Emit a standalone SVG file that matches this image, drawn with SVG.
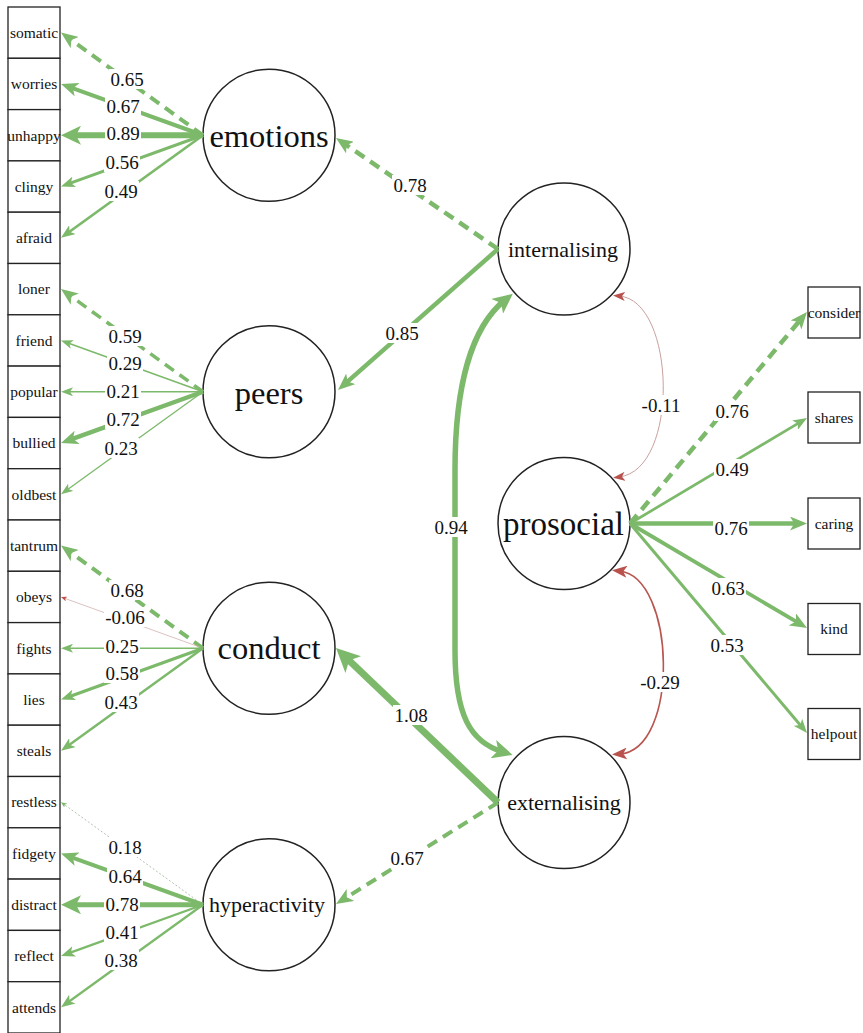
<svg xmlns="http://www.w3.org/2000/svg" width="863" height="1033" viewBox="0 0 863 1033">
<style>
.box{fill:#fff;stroke:#222;stroke-width:1.3}
.lat{fill:#fff;stroke:#222;stroke-width:1.5}
.bt{font-family:"Liberation Serif","Times New Roman",serif;font-size:15.5px;fill:#111;text-anchor:middle}
.lt{font-family:"Liberation Serif","Times New Roman",serif;fill:#111;text-anchor:middle}
.big{font-size:32.5px}
.mid{font-size:22px}
.e{fill:none;stroke:#7cb96a;stroke-linecap:butt}
.d{stroke-dasharray:11 7}
.neg0{stroke:#d3b3b1}
.dot{stroke:#a9bca5;stroke-dasharray:2 2}
.cov1{stroke:#c8a19e}
.cov2{stroke:#b85650}
.lb rect{fill:#fff}
.lb text{font-family:"Liberation Serif","Times New Roman",serif;font-size:19px;fill:#111;text-anchor:middle}
</style>
<defs>
<marker id="gT" viewBox="0 0 6 5" markerWidth="6" markerHeight="5" refX="3" refY="2.5" orient="auto-start-reverse" markerUnits="userSpaceOnUse"><path d="M0,0 L6,2.5 L0,5 L1.5,2.5 Z" fill="#7cb96a"/></marker>
<marker id="gS" viewBox="0 0 12 9" markerWidth="12" markerHeight="9" refX="6" refY="4.5" orient="auto-start-reverse" markerUnits="userSpaceOnUse"><path d="M0,0 L12,4.5 L0,9 L3,4.5 Z" fill="#7cb96a"/></marker>
<marker id="gM" viewBox="0 0 14 11" markerWidth="14" markerHeight="11" refX="7" refY="5.5" orient="auto-start-reverse" markerUnits="userSpaceOnUse"><path d="M0,0 L14,5.5 L0,11 L3.5,5.5 Z" fill="#7cb96a"/></marker>
<marker id="gL" viewBox="0 0 17 14" markerWidth="17" markerHeight="14" refX="8.5" refY="7" orient="auto-start-reverse" markerUnits="userSpaceOnUse"><path d="M0,0 L17,7 L0,14 L4.25,7 Z" fill="#7cb96a"/></marker>
<marker id="gXL" viewBox="0 0 20 19" markerWidth="20" markerHeight="19" refX="10" refY="9.5" orient="auto-start-reverse" markerUnits="userSpaceOnUse"><path d="M0,0 L20,9.5 L0,19 L5,9.5 Z" fill="#7cb96a"/></marker>
<marker id="gXXL" viewBox="0 0 24 23" markerWidth="24" markerHeight="23" refX="12" refY="11.5" orient="auto-start-reverse" markerUnits="userSpaceOnUse"><path d="M0,0 L24,11.5 L0,23 L6,11.5 Z" fill="#7cb96a"/></marker>
<marker id="rT" viewBox="0 0 6 5" markerWidth="6" markerHeight="5" refX="3" refY="2.5" orient="auto-start-reverse" markerUnits="userSpaceOnUse"><path d="M0,0 L6,2.5 L0,5 L1.5,2.5 Z" fill="#c0504b"/></marker>
<marker id="rS" viewBox="0 0 12 9" markerWidth="12" markerHeight="9" refX="6" refY="4.5" orient="auto-start-reverse" markerUnits="userSpaceOnUse"><path d="M0,0 L12,4.5 L0,9 L3,4.5 Z" fill="#b9514c"/></marker>
<marker id="rM" viewBox="0 0 15 12" markerWidth="15" markerHeight="12" refX="7.5" refY="6" orient="auto-start-reverse" markerUnits="userSpaceOnUse"><path d="M0,0 L15,6 L0,12 L3.75,6 Z" fill="#b9514c"/></marker>
</defs>
<rect width="863" height="1033" fill="#fff"/>

<g id="nodes">
<g id="n-somatic"><rect class="box" x="8" y="7" width="52" height="51.3"/><text class="bt" x="34" y="37.9">somatic</text></g>
<g id="n-worries"><rect class="box" x="8" y="58.3" width="52" height="51.3"/><text class="bt" x="34" y="89.2">worries</text></g>
<g id="n-unhappy"><rect class="box" x="8" y="109.6" width="52" height="51.3"/><text class="bt" x="34" y="140.5">unhappy</text></g>
<g id="n-clingy"><rect class="box" x="8" y="160.9" width="52" height="51.3"/><text class="bt" x="34" y="191.8">clingy</text></g>
<g id="n-afraid"><rect class="box" x="8" y="212.2" width="52" height="51.3"/><text class="bt" x="34" y="243.1">afraid</text></g>
<g id="n-loner"><rect class="box" x="8" y="263.5" width="52" height="51.3"/><text class="bt" x="34" y="294.4">loner</text></g>
<g id="n-friend"><rect class="box" x="8" y="314.8" width="52" height="51.3"/><text class="bt" x="34" y="345.7">friend</text></g>
<g id="n-popular"><rect class="box" x="8" y="366.1" width="52" height="51.3"/><text class="bt" x="34" y="397">popular</text></g>
<g id="n-bullied"><rect class="box" x="8" y="417.4" width="52" height="51.3"/><text class="bt" x="34" y="448.3">bullied</text></g>
<g id="n-oldbest"><rect class="box" x="8" y="468.7" width="52" height="51.3"/><text class="bt" x="34" y="499.6">oldbest</text></g>
<g id="n-tantrum"><rect class="box" x="8" y="520" width="52" height="51.3"/><text class="bt" x="34" y="550.9">tantrum</text></g>
<g id="n-obeys"><rect class="box" x="8" y="571.3" width="52" height="51.3"/><text class="bt" x="34" y="602.2">obeys</text></g>
<g id="n-fights"><rect class="box" x="8" y="622.6" width="52" height="51.3"/><text class="bt" x="34" y="653.5">fights</text></g>
<g id="n-lies"><rect class="box" x="8" y="673.9" width="52" height="51.3"/><text class="bt" x="34" y="704.8">lies</text></g>
<g id="n-steals"><rect class="box" x="8" y="725.2" width="52" height="51.3"/><text class="bt" x="34" y="756.1">steals</text></g>
<g id="n-restless"><rect class="box" x="8" y="776.5" width="52" height="51.3"/><text class="bt" x="34" y="807.4">restless</text></g>
<g id="n-fidgety"><rect class="box" x="8" y="827.8" width="52" height="51.3"/><text class="bt" x="34" y="858.7">fidgety</text></g>
<g id="n-distract"><rect class="box" x="8" y="879.1" width="52" height="51.3"/><text class="bt" x="34" y="910">distract</text></g>
<g id="n-reflect"><rect class="box" x="8" y="930.4" width="52" height="51.3"/><text class="bt" x="34" y="961.3">reflect</text></g>
<g id="n-attends"><rect class="box" x="8" y="981.7" width="52" height="51.3"/><text class="bt" x="34" y="1012.6">attends</text></g>

<g id="n-consider"><rect class="box" x="808" y="287" width="52" height="51"/><text class="bt" x="834" y="317.7">consider</text></g>
<g id="n-shares"><rect class="box" x="808" y="392" width="52" height="51"/><text class="bt" x="834" y="422.7">shares</text></g>
<g id="n-caring"><rect class="box" x="808" y="498" width="52" height="51"/><text class="bt" x="834" y="528.7">caring</text></g>
<g id="n-kind"><rect class="box" x="808" y="603.5" width="52" height="51"/><text class="bt" x="834" y="634.2">kind</text></g>
<g id="n-helpout"><rect class="box" x="808" y="708.5" width="52" height="51"/><text class="bt" x="834" y="739.2">helpout</text></g>

<g id="n-emotions"><circle class="lat" cx="269" cy="135.25" r="66"/><text class="lt big" x="269" y="146.5">emotions</text></g>
<g id="n-peers"><circle class="lat" cx="269" cy="391.75" r="66"/><text class="lt big" x="269" y="403.5">peers</text></g>
<g id="n-conduct"><circle class="lat" cx="269" cy="648.25" r="66"/><text class="lt big" x="269" y="658.5">conduct</text></g>
<g id="n-hyperactivity"><circle class="lat" cx="269" cy="904.75" r="66"/><text class="lt mid" x="267" y="912">hyperactivity</text></g>
<g id="n-internalising"><circle class="lat" cx="564" cy="249" r="66"/><text class="lt mid" x="563" y="256.5">internalising</text></g>
<g id="n-prosocial"><circle class="lat" cx="564" cy="523.5" r="66"/><text class="lt" style="font-size:33px" x="563.5" y="535">prosocial</text></g>
<g id="n-externalising"><circle class="lat" cx="564" cy="802.5" r="66"/><text class="lt mid" x="564" y="810">externalising</text></g>
</g>

<g id="connectors">
<path class="e d" d="M203,135.25 L67.9,37.6" stroke-width="4" marker-end="url(#gL)"/>
<path class="e" d="M203,135.25 L69,86.8" stroke-width="4" marker-end="url(#gL)"/>
<path class="e" d="M203,135.25 L71,135.25" stroke-width="6" marker-end="url(#gXL)"/>
<path class="e" d="M203,135.25 L67.6,184.2" stroke-width="3" marker-end="url(#gM)"/>
<path class="e" d="M203,135.25 L66.7,233.75" stroke-width="2.7" marker-end="url(#gM)"/>

<path class="e d" d="M203,391.75 L67.9,294.1" stroke-width="3.5" marker-end="url(#gL)"/>
<path class="e" d="M203,391.75 L66.6,342.5" stroke-width="1.6" marker-end="url(#gS)"/>
<path class="e" d="M203,391.75 L67,391.75" stroke-width="1.3" marker-end="url(#gS)"/>
<path class="e" d="M203,391.75 L69,440.2" stroke-width="4.5" marker-end="url(#gL)"/>
<path class="e" d="M203,391.75 L65.9,490.8" stroke-width="1.3" marker-end="url(#gS)"/>

<path class="e d" d="M203,648.25 L67.9,550.6" stroke-width="4" marker-end="url(#gL)"/>
<path class="e neg0" d="M203,648.25 L63.8,598" stroke-width="0.8" marker-end="url(#rT)"/>
<path class="e" d="M203,648.25 L67,648.25" stroke-width="1.5" marker-end="url(#gS)"/>
<path class="e" d="M203,648.25 L67.6,697.2" stroke-width="3.3" marker-end="url(#gM)"/>
<path class="e" d="M203,648.25 L66.7,746.75" stroke-width="2.4" marker-end="url(#gM)"/>

<path class="e dot" d="M203,904.75 L63.4,803.9" stroke-width="0.9" marker-end="url(#gT)"/>
<path class="e" d="M203,904.75 L69,856.3" stroke-width="4" marker-end="url(#gL)"/>
<path class="e" d="M203,904.75 L71,904.75" stroke-width="5" marker-end="url(#gXL)"/>
<path class="e" d="M203,904.75 L67.6,953.7" stroke-width="2.3" marker-end="url(#gM)"/>
<path class="e" d="M203,904.75 L66.7,1003.25" stroke-width="2.2" marker-end="url(#gM)"/>

<path class="e d" d="M498,249 L343,142.8" stroke-width="4.5" marker-end="url(#gL)"/>
<path class="e" d="M498,249 L344.4,384.4" stroke-width="4.5" marker-end="url(#gL)"/>
<path class="e" d="M498,802.5 L344.7,656.3" stroke-width="7" marker-end="url(#gXXL)"/>
<path class="e d" d="M498,802.5 L343.2,899.5" stroke-width="4" marker-end="url(#gL)"/>

<path class="e d" d="M630,523.5 L801.5,318.5" stroke-width="4.5" marker-end="url(#gL)"/>
<path class="e" d="M630,523.5 L801,421.6" stroke-width="2.7" marker-end="url(#gM)"/>
<path class="e" d="M630,523.5 L798.5,523.5" stroke-width="4.5" marker-end="url(#gL)"/>
<path class="e" d="M630,523.5 L799.7,623.7" stroke-width="3.8" marker-end="url(#gL)"/>
<path class="e" d="M630,523.5 L802.5,727.7" stroke-width="3" marker-end="url(#gM)"/>

<path class="e" d="M505,300 C470,328 455,390 455,470 L455,650 C455,715 470,742 503,752" stroke-width="5.5" marker-start="url(#gXL)" marker-end="url(#gXL)"/>
<path class="e cov1" d="M619,296 C676,300 680,470 619,477" stroke-width="1" marker-start="url(#rS)" marker-end="url(#rS)"/>
<path class="e cov2" d="M619.5,571 C676,577 680,750 619.5,754" stroke-width="1.6" marker-start="url(#rM)" marker-end="url(#rM)"/>
</g>

<g id="edge-labels">
<g class="lb"><rect x="109" y="69" width="36" height="20"/><text x="127" y="85.5">0.65</text></g>
<g class="lb"><rect x="105" y="96" width="36" height="20"/><text x="123" y="112.5">0.67</text></g>
<g class="lb"><rect x="105" y="123.5" width="36" height="20"/><text x="123" y="140">0.89</text></g>
<g class="lb"><rect x="104" y="152" width="36" height="20"/><text x="122" y="168.5">0.56</text></g>
<g class="lb"><rect x="103" y="181" width="36" height="20"/><text x="121" y="197.5">0.49</text></g>

<g class="lb"><rect x="107" y="326" width="36" height="20"/><text x="125" y="342.5">0.59</text></g>
<g class="lb"><rect x="107" y="353" width="36" height="20"/><text x="125" y="369.5">0.29</text></g>
<g class="lb"><rect x="105" y="381" width="36" height="20"/><text x="123" y="397.5">0.21</text></g>
<g class="lb"><rect x="105" y="409" width="36" height="20"/><text x="123" y="425.5">0.72</text></g>
<g class="lb"><rect x="103" y="438" width="36" height="20"/><text x="121" y="454.5">0.23</text></g>

<g class="lb"><rect x="109" y="580" width="36" height="20"/><text x="127" y="596.5">0.68</text></g>
<g class="lb"><rect x="104" y="607" width="42" height="20"/><text x="125" y="623.5">-0.06</text></g>
<g class="lb"><rect x="104" y="636" width="36" height="20"/><text x="122" y="652.5">0.25</text></g>
<g class="lb"><rect x="104" y="663" width="36" height="20"/><text x="122" y="679.5">0.58</text></g>
<g class="lb"><rect x="103" y="692" width="36" height="20"/><text x="121" y="708.5">0.43</text></g>

<g class="lb"><rect x="107" y="837" width="36" height="20"/><text x="125" y="853.5">0.18</text></g>
<g class="lb"><rect x="107" y="866" width="36" height="20"/><text x="125" y="882.5">0.64</text></g>
<g class="lb"><rect x="104" y="894" width="36" height="20"/><text x="122" y="910.5">0.78</text></g>
<g class="lb"><rect x="104" y="922" width="36" height="20"/><text x="122" y="938.5">0.41</text></g>
<g class="lb"><rect x="103" y="950" width="36" height="20"/><text x="121" y="966.5">0.38</text></g>

<g class="lb"><rect x="392" y="175" width="36" height="20"/><text x="410" y="191.5">0.78</text></g>
<g class="lb"><rect x="384" y="323" width="36" height="20"/><text x="402" y="339.5">0.85</text></g>
<g class="lb"><rect x="393" y="705" width="36" height="20"/><text x="411" y="721.5">1.08</text></g>
<g class="lb"><rect x="389" y="848" width="36" height="20"/><text x="407" y="864.5">0.67</text></g>
<g class="lb"><rect x="433" y="517" width="36" height="20"/><text x="451" y="533.5">0.94</text></g>

<g class="lb"><rect x="714" y="401" width="36" height="20"/><text x="732" y="417.5">0.76</text></g>
<g class="lb"><rect x="714" y="459" width="36" height="20"/><text x="732" y="475.5">0.49</text></g>
<g class="lb"><rect x="713" y="518" width="36" height="20"/><text x="731" y="534.5">0.76</text></g>
<g class="lb"><rect x="710" y="578" width="36" height="20"/><text x="728" y="594.5">0.63</text></g>
<g class="lb"><rect x="709" y="635" width="36" height="20"/><text x="727" y="651.5">0.53</text></g>

<g class="lb"><rect x="640" y="395" width="42" height="20"/><text x="661" y="411.5">-0.11</text></g>
<g class="lb"><rect x="639" y="672" width="42" height="20"/><text x="660" y="688.5">-0.29</text></g>
</g>
</svg>
